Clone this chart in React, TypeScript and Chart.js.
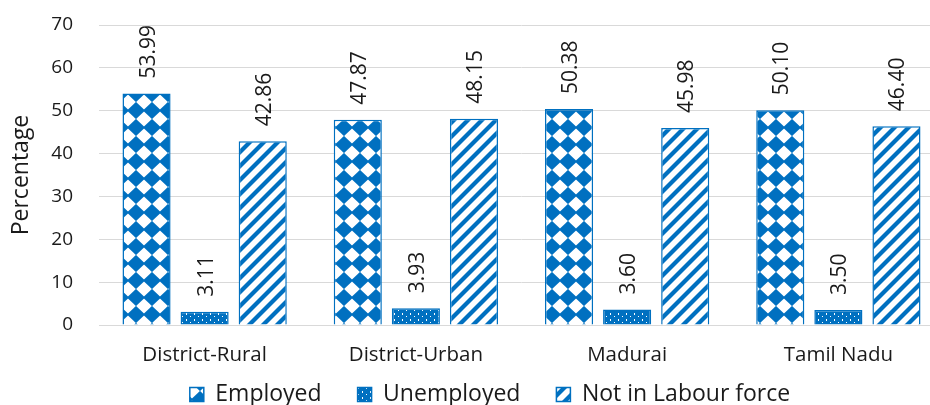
import React, { useEffect, useRef } from "react";
import { Chart, registerables } from "chart.js";

Chart.register(...registerables);

const categories = ["District-Rural", "District-Urban", "Madurai", "Tamil Nadu"];
const employed = [53.99, 47.87, 50.38, 50.1];
const unemployed = [3.11, 3.93, 3.6, 3.5];
const notInLabour = [42.86, 48.15, 45.98, 46.4];
const seriesNames = ["Employed", "Unemployed", "Not in Labour force"];
const yTicks = [0, 10, 20, 30, 40, 50, 60, 70];

const BLUE = "#0070C0";
const FONT = "'Open Sans', sans-serif";

function makeTile(w: number, h: number, draw: (c: CanvasRenderingContext2D) => void) {
  const cv = document.createElement("canvas");
  cv.width = w;
  cv.height = h;
  const c = cv.getContext("2d")!;
  draw(c);
  return c.createPattern(cv, "repeat")!;
}

function diamondPattern() {
  return makeTile(16, 17, (c) => {
    c.fillStyle = "#fff";
    c.fillRect(0, 0, 16, 17);
    c.fillStyle = BLUE;
    const dia = (cx: number, cy: number) => {
      c.beginPath();
      c.moveTo(cx - 9, cy);
      c.lineTo(cx, cy - 8.6);
      c.lineTo(cx + 9, cy);
      c.lineTo(cx, cy + 8.6);
      c.closePath();
      c.fill();
    };
    dia(8, 8.5);
    dia(-8, 8.5);
    dia(24, 8.5);
    dia(8, -8.5);
    dia(8, 25.5);
  });
}

function dotPattern() {
  return makeTile(8, 6, (c) => {
    c.fillStyle = BLUE;
    c.fillRect(0, 0, 8, 6);
    c.fillStyle = "#fff";
    c.fillRect(2, 1, 1, 2);
    c.fillRect(6, 4, 1, 1);
  });
}

function stripePattern() {
  return makeTile(14, 14, (c) => {
    c.fillStyle = "#fff";
    c.fillRect(0, 0, 14, 14);
    c.strokeStyle = BLUE;
    c.lineWidth = 4.2;
    c.lineCap = "square";
    const ln = (x1: number, y1: number, x2: number, y2: number) => {
      c.beginPath();
      c.moveTo(x1, y1);
      c.lineTo(x2, y2);
      c.stroke();
    };
    ln(-2, 16, 16, -2);
    ln(-9, 9, 9, -9);
    ln(5, 23, 23, 5);
  });
}

const valueLabels = {
  id: "valueLabels",
  afterDatasetsDraw(chart: any) {
    const ctx = chart.ctx;
    ctx.save();
    ctx.fillStyle = "#1a1a1a";
    ctx.font = `21px ${FONT}`;
    ctx.textAlign = "left";
    ctx.textBaseline = "middle";
    chart.data.datasets.forEach((ds: any, di: number) => {
      const meta = chart.getDatasetMeta(di);
      meta.data.forEach((bar: any, i: number) => {
        const v = ds.data[i] as number;
        ctx.save();
        ctx.translate(bar.x + 2, bar.y - 15);
        ctx.rotate(-Math.PI / 2);
        ctx.fillText(v.toFixed(2), 0, 0);
        ctx.restore();
      });
    });
    ctx.restore();
  },
};

const legendShift = {
  id: "legendShift",
  afterLayout(chart: any) {
    const lg = chart.legend;
    if (lg) {
      lg.left += 18;
      lg.right += 18;
      lg.top -= 23;
      lg.bottom -= 23;
    }
  },
};

export default function App() {
  const ref = useRef<HTMLCanvasElement>(null);
  useEffect(() => {
    if (!ref.current) return;
    const pats = [diamondPattern(), dotPattern(), stripePattern()];
    const values = [employed, unemployed, notInLabour];
    const chart = new Chart(ref.current, {
      type: "bar",
      data: {
        labels: categories,
        datasets: seriesNames.map((name, k) => ({
          label: name,
          data: values[k],
          backgroundColor: pats[k] as any,
          borderColor: BLUE,
          borderWidth: 1.5,
          categoryPercentage: 0.825,
          barPercentage: 0.828,
        })),
      },
      options: {
        responsive: false,
        animation: false,
        devicePixelRatio: 1,
        layout: { padding: { top: 25, right: 0, left: 0, bottom: -34 } },
        plugins: {
          tooltip: { enabled: false },
          legend: {
            position: "bottom",
            labels: {
              boxWidth: 14,
              boxHeight: 14,
              padding: 36,
              color: "#1a1a1a",
              font: { family: FONT, size: 23 },
            },
          },
        },
        scales: {
          x: {
            grid: { display: false, drawTicks: false },
            border: { display: true, color: "#d9d9d9", width: 1 },
            ticks: { color: "#1a1a1a", font: { family: FONT, size: 20.5 }, padding: 18, maxRotation: 0 },
            afterFit(s: any) {
              s.height = 45;
            },
          },
          y: {
            min: 0,
            max: 70,
            afterBuildTicks(s: any) {
              s.ticks = yTicks.map((v) => ({ value: v }));
            },
            grid: { color: "#d9d9d9", lineWidth: 1, drawTicks: false },
            border: { display: false },
            ticks: { color: "#1a1a1a", font: { family: FONT, size: 19 }, padding: 26 },
            title: {
              display: true,
              text: "Percentage",
              color: "#1a1a1a",
              font: { family: FONT, size: 23 },
              padding: { top: 8, bottom: 0 },
            },
            afterFit(s: any) {
              s.width = 99;
              s.paddingTop = 0;
              s.paddingBottom = 0;
            },
          },
        },
      },
      plugins: [valueLabels, legendShift],
    });
    return () => chart.destroy();
  }, []);
  return (
    <div style={{ position: "fixed", left: 0, top: 0, width: 930, height: 405, overflow: "hidden", background: "#fff" }}>
      <canvas ref={ref} width={944} height={405} style={{ display: "block", width: 944, height: 405 }} />
    </div>
  );
}
